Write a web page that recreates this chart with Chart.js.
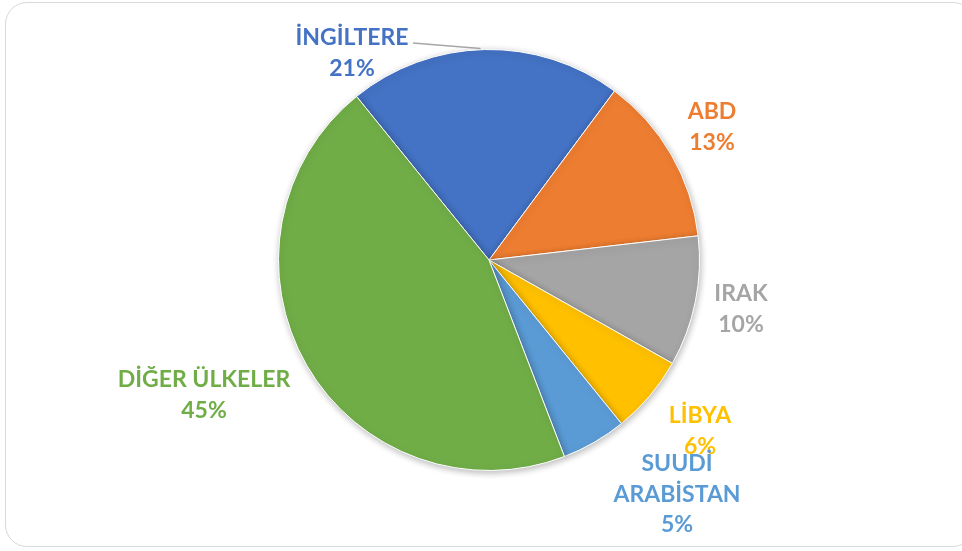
<!DOCTYPE html>
<html>
<head>
<meta charset="utf-8">
<script src="https://cdn.jsdelivr.net/npm/chart.js@4/dist/chart.umd.min.js"></script>
<style>
  html, body { margin: 0; padding: 0; background: #fff; }
  #wrap { position: relative; width: 962px; height: 551px; }
  #frame { position: absolute; left: 5px; top: 2px; width: 970px; height: 545px;
           border: 1.5px solid #d9d9d9; border-radius: 22px; box-sizing: border-box; }
  canvas { position: absolute; left: 0; top: 0; }
</style>
</head>
<body>
<div id="wrap">
  <div id="frame"></div>
  <canvas id="pie" width="962" height="551"></canvas>
</div>
<script>
const countries = ['İNGİLTERE', 'ABD', 'IRAK', 'LİBYA', 'SUUDİ ARABİSTAN', 'DİĞER ÜLKELER'];
const shares = [21, 13, 10, 6, 5, 45];
const sliceColors = ['#4472C4', '#ED7D31', '#A5A5A5', '#FFC000', '#5B9BD5', '#70AD47'];

// label text lines and where each label block is centred
const labelLines = [
    ['İNGİLTERE'], ['ABD'], ['IRAK'], ['LİBYA'], ['SUUDİ', 'ARABİSTAN'], ['DİĞER ÜLKELER']
];
const labelAt = [[352, 38], [712, 112], [741, 294], [700, 416], [677, 464], [204, 380]];

const shadowPlugin = {
    id: 'shadow',
    beforeDatasetsDraw(chart) {
        const ctx = chart.ctx;
        ctx.save();
        ctx.shadowColor = 'rgba(0,0,0,0.28)';
        ctx.shadowBlur = 7;
        ctx.shadowOffsetX = 1;
        ctx.shadowOffsetY = 2;
    },
    afterDatasetsDraw(chart) {
        chart.ctx.restore();
    }
};

const labelPlugin = {
    id: 'sliceLabels',
    afterDraw(chart) {
        const ctx = chart.ctx;
        const arcs = chart.getDatasetMeta(0).data;
        ctx.save();

        // leader line for İngiltere
        const a = arcs[0];
        const mid = (a.startAngle + a.endAngle) / 2;
        ctx.strokeStyle = '#a6a6a6';
        ctx.lineWidth = 1.5;
        ctx.beginPath();
        ctx.moveTo(413, 43);
        ctx.lineTo(a.x + Math.cos(mid) * a.outerRadius - 4, a.y + Math.sin(mid) * a.outerRadius - 1);
        ctx.stroke();

        ctx.font = 'bold 23px Lato, "Open Sans", sans-serif';
        ctx.textAlign = 'center';
        ctx.textBaseline = 'middle';
        countries.forEach((c, i) => {
            ctx.fillStyle = sliceColors[i];
            const lines = labelLines[i].concat([shares[i] + '%']);
            const [x, y] = labelAt[i];
            lines.forEach((t, k) => ctx.fillText(t, x, y + k * 30.5));
        });
        ctx.restore();
    }
};

new Chart(document.getElementById('pie'), {
    type: 'pie',
    data: {
        labels: countries,
        datasets: [{
            data: shares,
            backgroundColor: sliceColors,
            borderColor: '#ffffff',
            borderWidth: 1
        }]
    },
    options: {
        responsive: false,
        animation: false,
        rotation: -39,
        layout: { padding: { left: 278, right: 262, top: 49, bottom: 80 } },
        plugins: {
            legend: { display: false },
            tooltip: { enabled: false }
        }
    },
    plugins: [shadowPlugin, labelPlugin]
});
</script>
</body>
</html>
